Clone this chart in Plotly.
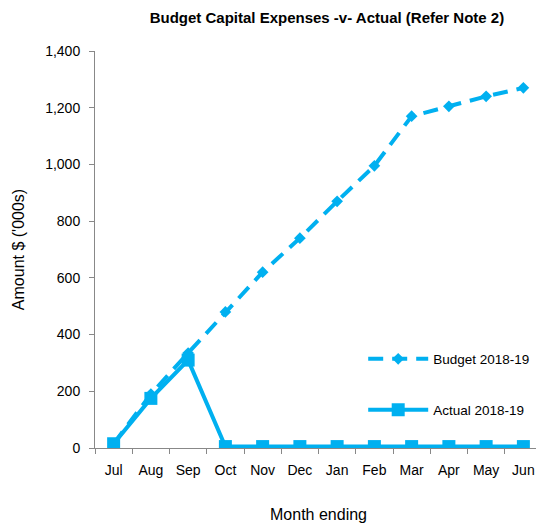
import plotly.graph_objects as go

months = ["Jul", "Aug", "Sep", "Oct", "Nov", "Dec", "Jan", "Feb", "Mar", "Apr", "May", "Jun"]
budget = [15, 190, 335, 480, 620, 740, 870, 995, 1170, 1205, 1240, 1270]
actual = [15, 175, 310, 5, 5, 5, 5, 5, 5, 5, 5, 5]

color = "#00B0F0"
font = "Liberation Sans"
axis_grey = "#888888"

fig = go.Figure()
fig.add_trace(go.Scatter(
    x=months, y=budget, name="Budget 2018-19", mode="lines+markers",
    line=dict(color=color, width=4, dash="15px,9px"),
    marker=dict(symbol="diamond", size=9, color=color),
    legend="legend",
))
fig.add_trace(go.Scatter(
    x=months, y=actual, name="Actual 2018-19", mode="lines+markers",
    line=dict(color=color, width=4),
    marker=dict(symbol="square", size=13, color=color),
    legend="legend2",
))

# the page has an 8px body margin, so the figure is 8px smaller than the window
fig.update_layout(
    width=536, height=515,
    margin=dict(l=87, r=2, t=43, b=75),
    showlegend=True,
    paper_bgcolor="white", plot_bgcolor="white",
    font=dict(family=font, size=14, color="black"),
    title=dict(text="<b>Budget Capital Expenses -v- Actual (Refer Note 2)</b>",
               x=0.595, xanchor="center", y=0.982, yanchor="middle",
               font=dict(size=15)),
    legend=dict(x=0.60, y=0.224, xanchor="left", yanchor="middle",
                bgcolor="rgba(0,0,0,0)", font=dict(size=13.5), itemwidth=60),
    legend2=dict(x=0.60, y=0.096, xanchor="left", yanchor="middle",
                 bgcolor="rgba(0,0,0,0)", font=dict(size=13.5), itemwidth=60),
    xaxis=dict(
        type="category", range=[-0.5, 11.5], tickson="boundaries",
        ticks="outside", ticklen=5, tickcolor=axis_grey,
        showline=True, linecolor=axis_grey, linewidth=1,
        showgrid=False, tickfont=dict(size=14), ticklabelstandoff=9,
        title=dict(text="Month ending", font=dict(size=16), standoff=32),
    ),
    yaxis=dict(
        range=[0, 1400], dtick=200, tickformat=",",
        ticks="outside", ticklen=5, tickcolor=axis_grey,
        showline=True, linecolor=axis_grey, linewidth=1,
        showgrid=False, zeroline=False, tickfont=dict(size=14), ticklabelstandoff=6,
        title=dict(text="Amount $ ('000s)", font=dict(size=16), standoff=16),
    ),
)

fig.write_html("out.html")
